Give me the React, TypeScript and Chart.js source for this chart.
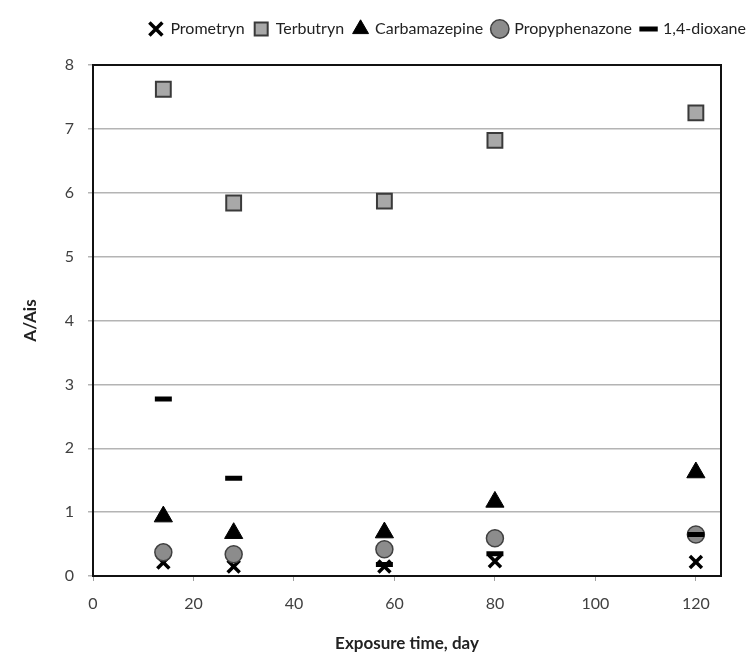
import { useEffect, useRef } from "react";
import { Chart, registerables } from "chart.js";

Chart.register(...registerables);

const days = [14, 28, 58, 80, 120];
const prometryn = [0.21, 0.15, 0.15, 0.23, 0.22];
const terbutryn = [7.62, 5.84, 5.87, 6.82, 7.25];
const carbamazepine = [0.93, 0.67, 0.68, 1.16, 1.62];
const propyphenazone = [0.37, 0.34, 0.42, 0.59, 0.65];
const dioxane = [2.77, 1.53, 0.18, 0.35, 0.65];

const xTickValues = [0, 20, 40, 60, 80, 100, 120];
const yTickValues = [0, 1, 2, 3, 4, 5, 6, 7, 8];

const FONT = "Lato, 'Open Sans', sans-serif";

const toPoints = (vals: number[]) => vals.map((v, i) => ({ x: days[i], y: v }));

const frame = {
  id: "frame",
  beforeDatasetsDraw(chart: any) {
    const { ctx, chartArea } = chart;
    ctx.save();
    ctx.strokeStyle = "#111111";
    ctx.lineWidth = 2;
    ctx.strokeRect(chartArea.left, chartArea.top, chartArea.right - chartArea.left, chartArea.bottom - chartArea.top);
    ctx.restore();
  },
};

const spacer = (size: number, horizontal: boolean, position: string) => ({
  type: "linear",
  position,
  display: true,
  ticks: { display: false },
  grid: { display: false },
  border: { display: false },
  afterFit: (scale: any) => {
    if (horizontal) scale.height = size;
    else scale.width = size;
  },
});

export default function App() {
  const ref = useRef<HTMLCanvasElement>(null);

  useEffect(() => {
    document.body.style.margin = "0";
    const chart = new Chart(ref.current!, {
      type: "scatter",
      data: {
        datasets: [
          {
            label: "Prometryn",
            data: toPoints(prometryn),
            pointStyle: "crossRot",
            radius: 8.5,
            borderWidth: 3.5,
            borderColor: "#000000",
            backgroundColor: "#000000",
            order: 0,
          },
          {
            label: "Terbutryn",
            data: toPoints(terbutryn),
            pointStyle: "rect",
            radius: 10.5,
            borderWidth: 2,
            borderColor: "#3a3a3a",
            backgroundColor: "#a8a8a8",
            order: -1,
          },
          {
            label: "Carbamazepine",
            data: toPoints(carbamazepine),
            pointStyle: "triangle",
            radius: 10.5,
            borderWidth: 1,
            borderColor: "#000000",
            backgroundColor: "#000000",
            order: -2,
          },
          {
            label: "Propyphenazone",
            data: toPoints(propyphenazone),
            pointStyle: "circle",
            radius: 8.5,
            borderWidth: 1.5,
            borderColor: "#404040",
            backgroundColor: "#8c8c8c",
            order: -3,
          },
          {
            label: "1,4-dioxane",
            data: toPoints(dioxane),
            pointStyle: "line",
            radius: 8.5,
            borderWidth: 5,
            borderColor: "#000000",
            backgroundColor: "#000000",
            order: -4,
          },
        ],
      },
      options: {
        animation: false,
        responsive: false,
        maintainAspectRatio: false,
        layout: { padding: { left: 0, right: -6, top: 11, bottom: 0 } },
        plugins: {
          tooltip: { enabled: false },
          legend: {
            position: "top",
            align: "end",
            labels: {
              usePointStyle: true,
              font: { family: FONT, size: 16 },
              color: "#222222",
              padding: 10,
              boxWidth: 13,
              boxHeight: 13,
              sort: (a: any, b: any) => a.datasetIndex - b.datasetIndex,
            },
          },
        },
        scales: {
          x: {
            type: "linear",
            min: 0,
            max: 125,
            afterBuildTicks: (scale: any) => {
              scale.ticks = xTickValues.map((v) => ({ value: v }));
            },
            afterFit: (scale: any) => {
              scale.height = 80;
            },
            ticks: {
              font: { family: FONT, size: 16 },
              color: "#404040",
              padding: 13,
            },
            grid: {
              drawOnChartArea: false,
              drawTicks: true,
              tickLength: 5,
              color: "#a0a0a0",
            },
            border: { display: false },
            title: {
              display: true,
              text: "Exposure time, day",
              font: { family: FONT, size: 17, weight: "bold" },
              color: "#222222",
              padding: { top: 0, bottom: 2 },
            },
          },
          xTop: spacer(18, true, "top") as any,
          yRight: spacer(35, false, "right") as any,
          y: {
            type: "linear",
            min: 0,
            max: 8,
            afterBuildTicks: (scale: any) => {
              scale.ticks = yTickValues.map((v) => ({ value: v }));
            },
            afterFit: (scale: any) => {
              scale.width = 93;
            },
            ticks: {
              font: { family: FONT, size: 16 },
              color: "#404040",
              padding: 14,
            },
            grid: {
              color: "#b4b4b4",
              lineWidth: 1.5,
              drawTicks: true,
              tickLength: 5,
            },
            border: { display: false },
            title: {
              display: true,
              text: "A/Ais",
              font: { family: FONT, size: 17, weight: "bold" },
              color: "#222222",
              padding: { top: 20, bottom: 0 },
            },
          },
        },
      },
      plugins: [frame],
    });
    return () => chart.destroy();
  }, []);

  return (
    <div style={{ width: 750, height: 656 }}>
      <canvas ref={ref} width={750} height={656} style={{ display: "block" }} />
    </div>
  );
}
